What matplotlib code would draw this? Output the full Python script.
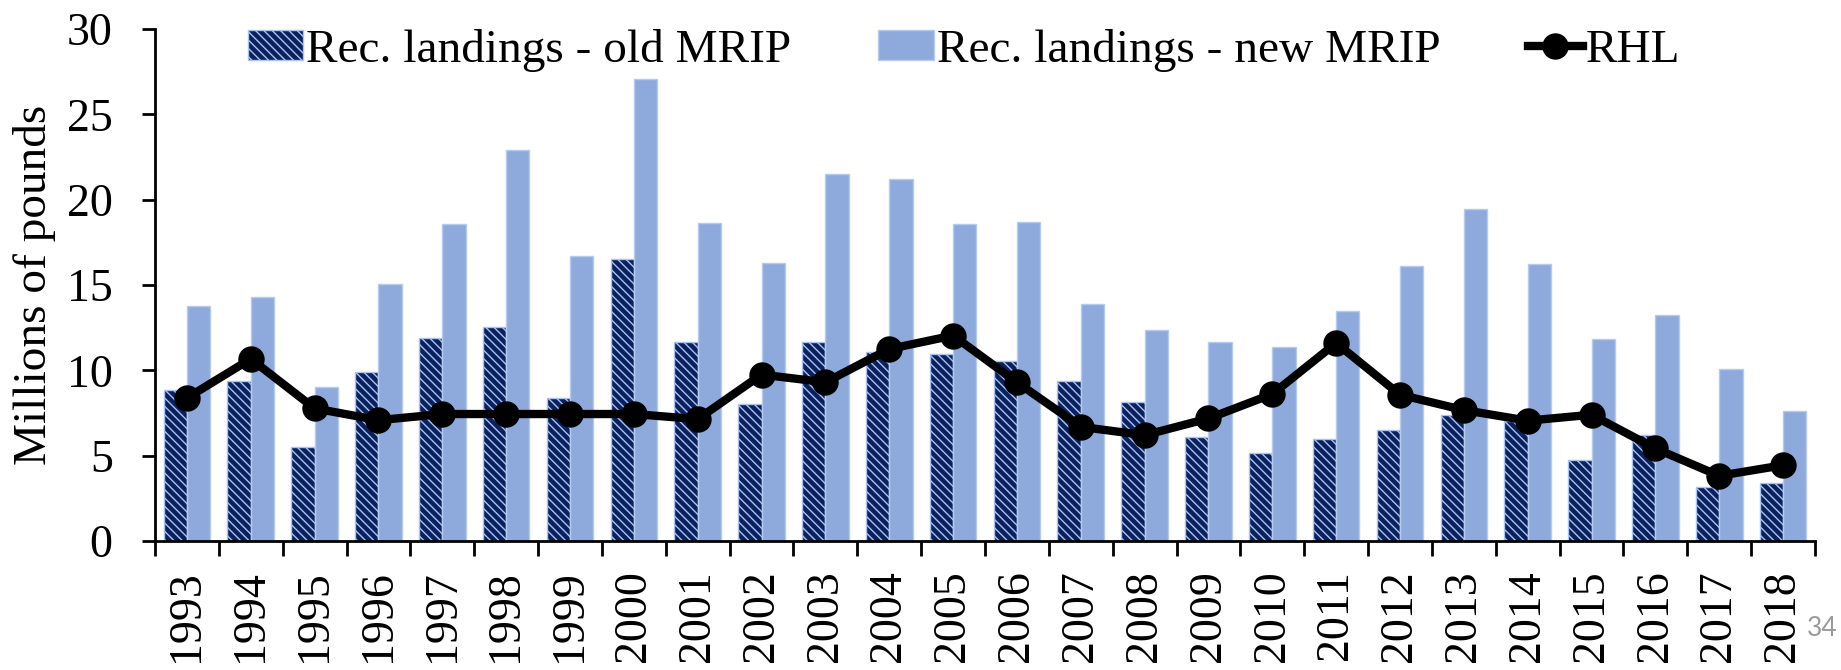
import numpy as np
import matplotlib
matplotlib.use("Agg")
import matplotlib.pyplot as plt

years = [str(y) for y in range(1993, 2019)]
old_mrip = [8.86, 9.39, 5.48, 9.88, 11.9, 12.52, 8.38, 16.52, 11.68, 8.02, 11.68, 11.06, 10.96,
            10.53, 9.35, 8.16, 6.07, 5.13, 5.97, 6.5, 7.38, 7.05, 4.74, 6.2, 3.19, 3.39]
new_mrip = [13.76, 14.32, 9.02, 15.05, 18.57, 22.9, 16.71, 27.08, 18.61, 16.3, 21.5, 21.2, 18.57,
            18.67, 13.91, 12.35, 11.66, 11.35, 13.5, 16.14, 19.47, 16.24, 11.84, 13.27, 10.08, 7.59]
rhl = [8.38, 10.67, 7.77, 7.08, 7.44, 7.44, 7.44, 7.44, 7.14, 9.75, 9.3, 11.25, 12.04,
       9.3, 6.69, 6.2, 7.18, 8.61, 11.6, 8.57, 7.67, 7.05, 7.4, 5.42, 3.82, 4.44]
yticks = [0, 5, 10, 15, 20, 25, 30]

plt.rcParams['font.family'] = ['Liberation Serif', 'DejaVu Serif']
plt.rcParams['hatch.linewidth'] = 1.0

fig = plt.figure(figsize=(18.41, 6.70), dpi=100)
ax = fig.add_axes([155/1841, 1-541/670, (1815-155)/1841, (541-29)/670])

x = np.arange(len(years))
w = 0.365
b1 = ax.bar(x - w/2, old_mrip, width=w, color='#0a2160', edgecolor='#abc3ec',
            linewidth=1.0, hatch='\\\\\\\\', label='Rec. landings - old MRIP', zorder=2)
b2 = ax.bar(x + w/2, new_mrip, width=w, color='#8eaadc', edgecolor='#b7caec',
            linewidth=1.0, label='Rec. landings - new MRIP', zorder=2)
l1, = ax.plot(x, rhl, color='black', linewidth=6, marker='o', markersize=18,
              label='RHL', zorder=3, solid_joinstyle='round')

ax.set_xlim(-0.5, len(years) - 0.5)
ax.set_ylim(0, 30)
ax.set_yticks(yticks)
ax.set_yticklabels([str(v) for v in yticks], fontsize=33)
ax.set_xticks(np.arange(len(years) + 1) - 0.5)
ax.set_xticklabels([])
ax.set_xticks(x, minor=True)
ax.set_xticklabels(years, minor=True, rotation=90, fontsize=33)
ax.tick_params(axis='x', which='major', direction='out', length=10.5, width=2)
ax.tick_params(axis='x', which='minor', length=0, pad=21)
ax.tick_params(axis='y', direction='out', length=9.5, width=2, pad=21)

for s in ['top', 'right']:
    ax.spines[s].set_visible(False)
for s in ['left', 'bottom']:
    ax.spines[s].set_linewidth(2)

ax.set_ylabel('Millions of pounds', fontsize=34)
ax.yaxis.set_label_coords((56-155)/1660, 0.5)

leg = fig.legend(handles=[b1, b2, l1], loc='center', bbox_to_anchor=(964/1841, 1-50/670),
                 ncol=3, frameon=False, fontsize=34, handlelength=1.17, handleheight=0.6,
                 handletextpad=0.06, columnspacing=1.85, borderpad=0)

fig.text(1838/1841, 1-628/670, '34', color='#9a9a9a', fontsize=19,
         family=['Lato', 'DejaVu Sans'], ha='right', va='center')

fig.savefig('out.png', dpi=100)
